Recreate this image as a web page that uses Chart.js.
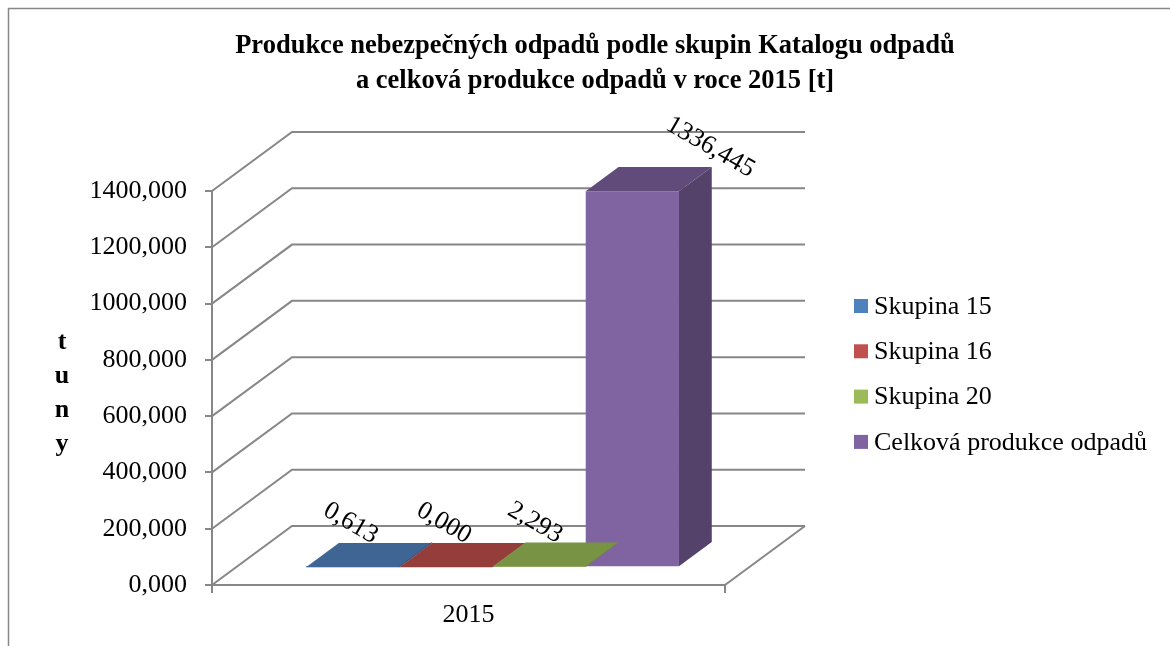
<!DOCTYPE html>
<html>
<head>
<meta charset="utf-8">
<script src="https://cdn.jsdelivr.net/npm/chart.js@4.4.0/dist/chart.umd.min.js"></script>
<style>
  html, body { margin: 0; padding: 0; background: #fff; }
  #wrap { width: 1170px; height: 646px; }
</style>
</head>
<body>
<div id="wrap"><canvas id="chart" width="1170" height="646"></canvas></div>
<script>
// Data
const categories = ['2015'];
const seriesNames = ['Skupina 15', 'Skupina 16', 'Skupina 20', 'Celková produkce odpadů'];
const seriesValues = [0.613, 0.000, 2.293, 1336.445];
const yTicks = [0, 200, 400, 600, 800, 1000, 1200, 1400];
const titleLines = [
    'Produkce nebezpečných odpadů podle skupin Katalogu odpadů',
    'a celková produkce odpadů v roce 2015 [t]'
];
const yTitle = ['t', 'u', 'n', 'y'];

// Colours: front, top and side faces of the 3D bars
const frontColors = ['#4F81BD', '#C0504D', '#9BBB59', '#8064A2'];
const topColors = ['#3E6593', '#953D3B', '#789343', '#604B7A'];
const sideColors = ['#34557C', '#7E3432', '#657C38', '#54426B'];
const labelDx = [-2, -2, -4, 78]; // nudges for the value labels

const FONT = 'Liberation Serif';
const FS = 26;
const GRID = '#878787';
const DEPTH = { x: 80, y: -59 };      // front plane -> back wall
const BAR_FRONT = 0.3, BAR_BACK = 0.71; // bar depth as fraction of DEPTH

function fmt(v) {
    return v.toFixed(3).replace('.', ',');
}

// Draws the 3D walls, bar faces, value labels, legend and the y title
const box3d = {
    id: 'box3d',
    beforeDraw(chart) {
        const ctx = chart.ctx;
        ctx.save();
        ctx.fillStyle = '#fff';
        ctx.fillRect(0, 0, chart.width, chart.height);
        ctx.strokeStyle = GRID;
        ctx.lineWidth = 1.5;
        ctx.strokeRect(8.5, 8.5, chart.width, chart.height);
        ctx.restore();
    },
    beforeDatasetsDraw(chart) {
        const { ctx, chartArea: a, scales: { y } } = chart;
        ctx.save();
        ctx.strokeStyle = GRID;
        ctx.lineWidth = 2;
        ctx.beginPath();
        y.ticks.forEach(t => {
            const py = y.getPixelForValue(t.value);
            ctx.moveTo(a.left, py);
            ctx.lineTo(a.left + DEPTH.x, py + DEPTH.y);
            ctx.lineTo(a.right + DEPTH.x, py + DEPTH.y);
        });
        ctx.moveTo(a.right, a.bottom);
        ctx.lineTo(a.right + DEPTH.x, a.bottom + DEPTH.y);
        ctx.stroke();
        ctx.restore();

        // push the bars back into the box
        ctx.save();
        ctx.translate(DEPTH.x * BAR_FRONT, DEPTH.y * BAR_FRONT);
    },
    afterDatasetsDraw(chart) {
        const ctx = chart.ctx;
        const dx = DEPTH.x * (BAR_BACK - BAR_FRONT);
        const dy = DEPTH.y * (BAR_BACK - BAR_FRONT);
        chart.data.datasets.forEach((ds, i) => {
            const bar = chart.getDatasetMeta(i).data[0];
            const l = bar.x - bar.width / 2, r = bar.x + bar.width / 2;
            const top = bar.y, base = bar.base;

            ctx.fillStyle = ds.topColor;
            ctx.beginPath();
            ctx.moveTo(l, top);
            ctx.lineTo(r, top);
            ctx.lineTo(r + dx, top + dy);
            ctx.lineTo(l + dx, top + dy);
            ctx.closePath();
            ctx.fill();

            ctx.fillStyle = ds.sideColor;
            ctx.beginPath();
            ctx.moveTo(r, top);
            ctx.lineTo(r + dx, top + dy);
            ctx.lineTo(r + dx, base + dy);
            ctx.lineTo(r, base);
            ctx.closePath();
            ctx.fill();

            // value label, rotated like the original
            ctx.save();
            ctx.translate(bar.x + ds.labelDx, top - 44);
            ctx.rotate(Math.PI / 6);
            ctx.font = FS + 'px "' + FONT + '"';
            ctx.fillStyle = '#000';
            ctx.textAlign = 'center';
            ctx.textBaseline = 'middle';
            ctx.fillText(fmt(ds.data[0]), 0, 0);
            ctx.restore();
        });
        ctx.restore();
    },
    afterDraw(chart) {
        const { ctx } = chart;
        ctx.save();
        // y axis title, letters stacked
        ctx.font = 'bold ' + FS + 'px "' + FONT + '"';
        ctx.fillStyle = '#000';
        ctx.textAlign = 'center';
        ctx.textBaseline = 'middle';
        const cy = 393;
        yTitle.forEach((ch, i) => {
            ctx.fillText(ch, 62, cy + (i - (yTitle.length - 1) / 2) * 34);
        });

        // legend
        ctx.font = FS + 'px "' + FONT + '"';
        ctx.textAlign = 'left';
        chart.data.datasets.forEach((ds, i) => {
            const iy = 306 + i * 45.3;
            ctx.fillStyle = ds.backgroundColor;
            ctx.fillRect(854, iy - 7, 14, 14);
            ctx.fillStyle = '#000';
            ctx.fillText(ds.label, 874, iy + 1);
        });
        ctx.restore();
    }
};

const ctx = document.getElementById('chart').getContext('2d');
const chart = new Chart(ctx, {
    type: 'bar',
    data: {
        labels: categories,
        datasets: seriesNames.map((name, i) => ({
            label: name,
            data: [seriesValues[i]],
            backgroundColor: frontColors[i],
            topColor: topColors[i],
            sideColor: sideColors[i],
            labelDx: labelDx[i],
            borderWidth: 0,
            yAxisID: 'y',
            categoryPercentage: 0.727,
            barPercentage: 1
        }))
    },
    options: {
        responsive: false,
        animation: false,
        devicePixelRatio: 1,
        layout: { padding: { left: 20, right: 0, top: 0, bottom: 0 } },
        plugins: {
            legend: { display: false },
            tooltip: { enabled: false },
            title: {
                display: true,
                text: titleLines,
                color: '#000',
                font: { family: FONT, size: 26.5, weight: 'bold', lineHeight: 35 / 26.5 },
                padding: { top: 29, bottom: 92 }
            }
        },
        scales: {
            x: {
                grid: { display: true, drawOnChartArea: false, offset: true, tickLength: 8, color: GRID, lineWidth: 2 },
                border: { display: true, color: GRID, width: 2 },
                ticks: { color: '#000', font: { family: FONT, size: FS }, padding: 7 },
                afterFit(s) { s.height = 61; }
            },
            y: {
                min: yTicks[0],
                max: yTicks[yTicks.length - 1],
                grid: { drawOnChartArea: false, tickLength: 7, color: GRID, lineWidth: 2 },
                border: { display: true, color: GRID, width: 2 },
                ticks: {
                    stepSize: yTicks[1] - yTicks[0],
                    color: '#000',
                    padding: 18,
                    font: { family: FONT, size: FS },
                    callback: v => fmt(v)
                },
                afterFit(s) { s.width = 192; }
            },
            // empty space on the right for the legend
            gap: {
                type: 'linear',
                position: 'right',
                display: true,
                grid: { display: false },
                border: { display: false },
                ticks: { display: false },
                afterFit(s) { s.width = 445; }
            }
        }
    },
    plugins: [box3d]
});
</script>
</body>
</html>
